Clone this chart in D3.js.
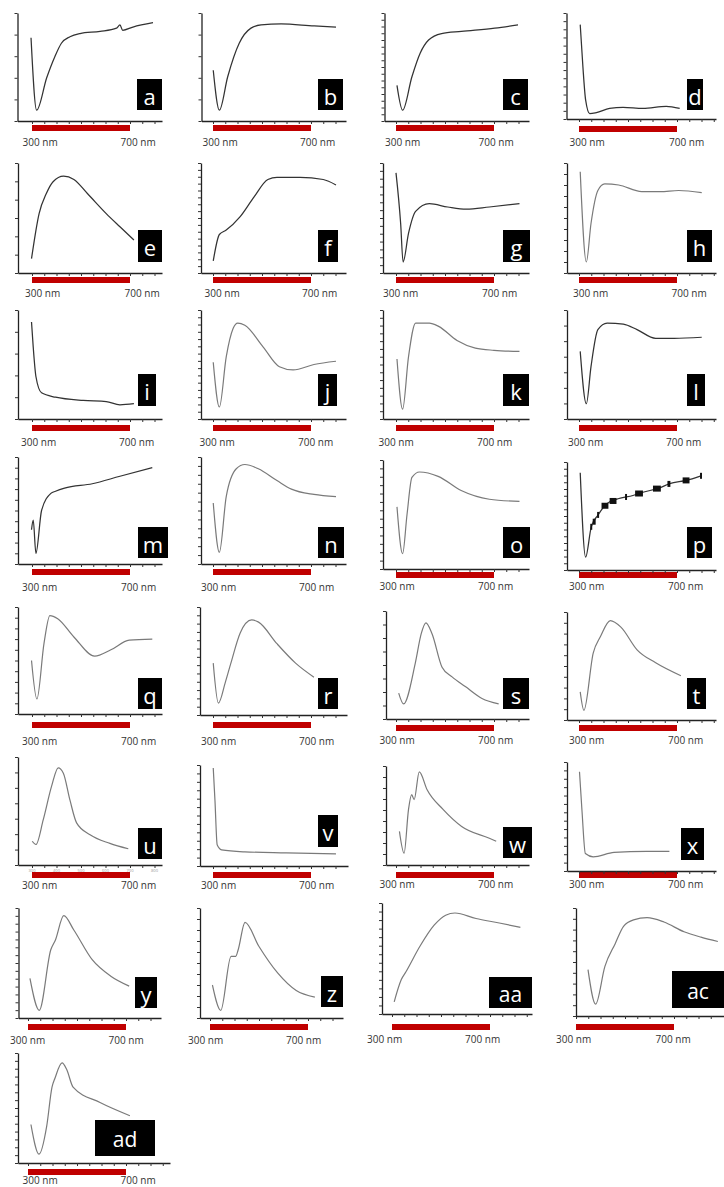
<!DOCTYPE html>
<html><head><meta charset="utf-8">
<script src="https://cdn.jsdelivr.net/npm/d3@7"></script>
<style>body{margin:0;background:#fff}svg{display:block}</style>
</head><body>
<svg id="c" width="724" height="1187"></svg>
<script>
// ---------- DATA ----------
const panelIds = ["a","b","c","d","e","f","g","h","i","j","k","l","m","n","o","p","q","r","s","t","u","v","w","x","y","z","aa","ac","ad"];
const barRangeNm = [300, 700];
const barLabels = ["300 nm", "700 nm"];
const xTickNm = [300,350,400,450,500,550,600,650,700,750,800,850];
const uTickLabels = ["300","400","500","600","700","800"];
const uTickNm = [300,400,500,600,700,800];
const yTickCounts = [5,5,16,13,6,16,14,10,5,15,14,7,10,12,13,16,10,13,8,10,7,12,9,13,14,10,13,10,14];
const noisyPanels = ["a","b","c","d","e","f","g","i","l","m","p"];

const a_nm = [296,319,360,394,420,455,496,578,645,659,670,712,794];
const a_val = [77,10,40,60,72,78,81,83,86,89,84,87,91];
const b_nm = [301,326,360,407,455,496,578,713,802];
const b_val = [47,10,41,72,86,89,90,88,87];
const c_nm = [304,327,365,399,433,486,567,703,798];
const c_val = [33,10,41,63,75,81,83,86,89];
const d_nm = [305,316,327,344,371,425,480,561,656,711];
const d_val = [89,49,18,5,6,10,11,10,12,10];
const e_nm = [298,329,358,386,429,471,527,603,659,716];
const e_val = [13,54,72,83,88,85,72,54,42,30];
const f_nm = [301,326,354,410,467,524,561,655,750,802];
const f_val = [11,35,39,51,69,85,87,87,85,80];
const g_nm = [300,319,329,351,380,436,511,587,681,804];
const g_val = [91,45,10,36,56,63,60,58,60,63];
const h_nm = [305,330,349,377,405,462,556,631,707,801];
const h_val = [92,10,45,75,81,80,74,74,75,73];
const i_nm = [298,305,316,339,396,509,603,659,716];
const i_val = [89,66,39,24,20,17,16,13,14];
const j_nm = [301,326,354,382,401,430,505,571,627,712,802];
const j_val = [52,11,57,83,88,86,66,48,45,50,53];
const k_nm = [304,327,351,380,436,474,549,624,700,804];
const k_val = [55,9,57,88,88,85,72,65,63,62];
const l_nm = [305,330,349,377,415,481,537,613,688,801];
const l_val = [62,14,48,82,88,87,82,74,74,75];
const m_nm = [298,305,316,339,377,396,433,546,659,791];
const m_val = [32,41,10,50,66,68,71,75,82,90];
const n_nm = [301,326,354,395,430,485,561,620,712,802];
const n_val = [57,11,63,89,93,89,78,70,65,63];
const o_nm = [304,327,345,365,396,472,566,681,804];
const o_val = [57,14,50,84,89,85,72,64,62];
const p_nm = [305,327,350,378,411,459,520,561,629,670,738,795];
const p_val = [90,12,40,51,61,66,69,72,76,80,83,87];
const pBlockNm = [350,362,378,406,439,492,545,618,667,737,798];
const pBlockW = [8,12,8,28,28,8,32,32,12,28,8];
const q_nm = [298,320,349,373,405,471,556,622,697,791];
const q_val = [50,14,66,92,89,72,54,60,69,70];
const r_nm = [301,322,350,373,411,458,486,561,637,712];
const r_val = [48,11,30,48,76,88,86,66,48,35];
const s_nm = [311,331,379,403,422,447,488,529,583,651,719];
const s_val = [24,14,52,79,89,79,48,39,30,19,14];
const t_nm = [305,320,358,387,428,471,537,613,716];
const t_val = [26,9,62,77,92,86,65,53,41];
const u_nm = [301,316,346,380,407,428,455,482,537,618,693];
const u_val = [22,19,42,73,90,85,60,39,28,20,15];
const v_nm = [301,308,317,335,430,599,802];
const v_val = [97,65,21,16,14,13,12];
const w_nm = [314,333,351,364,374,395,427,493,568,681,709];
const w_val = [34,12,56,71,66,94,76,56,39,27,24];
const x_nm = [302,312,326,358,443,575,669];
const x_val = [91,56,16,13,17,18,18];
const y_nm = [308,346,393,412,446,487,562,638,713];
const y_val = [36,7,62,71,93,80,53,38,29];
const z_nm = [310,344,386,405,415,443,500,576,652,728];
const z_val = [30,7,56,56,62,87,65,41,25,19];
const aa_nm = [309,338,357,414,472,519,557,643,738,824];
const aa_val = [11,31,38,61,80,89,91,86,82,78];
const ac_nm = [349,380,418,460,494,535,590,659,741,810,879];
const ac_val = [43,11,46,67,83,89,91,87,78,73,69];
const ad_nm = [312,345,376,398,410,439,458,484,594,716];
const ad_val = [35,8,33,69,77,91,85,69,55,43];

const spectraNm = [a_nm,b_nm,c_nm,d_nm,e_nm,f_nm,g_nm,h_nm,i_nm,j_nm,k_nm,l_nm,m_nm,n_nm,o_nm,p_nm,q_nm,r_nm,s_nm,t_nm,u_nm,v_nm,w_nm,x_nm,y_nm,z_nm,aa_nm,ac_nm,ad_nm];
const spectraVal = [a_val,b_val,c_val,d_val,e_val,f_val,g_val,h_val,i_val,j_val,k_val,l_val,m_val,n_val,o_val,p_val,q_val,r_val,s_val,t_val,u_val,v_val,w_val,x_val,y_val,z_val,aa_val,ac_val,ad_val];

// ---------- LAYOUT (pixels) ----------
// [axisX, axisEnd, top, bottom, x@300nm, barY, labelY, x300label, x700label, boxX, boxY, boxW, boxH]
const layout = [
 [17.5,162,13,121,32,125,142,22.5,120.5,137,79,25,31],
 [201.5,346,13,121,213,125,142,202.5,300,318,79,25,31],
 [384.5,529,13,121,396,125,142,385,478.5,503,79,25,31],
 [566.5,716,13,119,579,126,142,569.5,669,687,79,16,31],
 [18,162,163,273,32,277,293,25,124.5,138,230,24,32],
 [201,346,163,273,213,277,293,204.5,302,318,230,20,32],
 [383,529,163,273,396,277,293,383,482,503,230,27,32],
 [567,716,163,273,579,277,293,573,671.5,687,230,25,32],
 [18,162,310,419,32,425,442,21,119,138,374,18,32],
 [201,346,310,419,213,425,442,199.5,298,318,374,19,32],
 [383,529,310,419,396,425,442,378.5,477,503,374,26,32],
 [567,716,310,419,579,425,442,568,666,687,374,18,32],
 [18,162,457,564,32,569,587,22,121,138,527,30,31],
 [201,346,457,564,213,569,587,201,299,318,527,26,31],
 [383,529,460,569,396,572,586,379.5,478,503,527,27,31],
 [567,716,462,570,579,572,586,569,668,687,527,25,31],
 [18,162,607,714,32,722,741,22,121,138,678,24,31],
 [200,347,607,715,213,722,741,201,299,318,678,20,31],
 [386,529,611,719,396,725,740,379.5,478,503,678,26,31],
 [567,716,612,720,579,725,740,569,668,687,678,19,31],
 [18,162,757,865,32,872,885,22,121,138,828,24,31],
 [200,348,765,866,213,872,885,201,299,318,815,20,32],
 [386,529,766,865,396,872,884,379.5,478,503,827,29,31],
 [567,716,762,871,579,872,884,569,668,681,828,23,32],
 [18.5,161,908,1018,28,1024,1040,10,108.5,135,977,22,31],
 [200,343,908,1018,210,1024,1040,188,286,321,976,22,31],
 [382,532,903,1014,392,1024,1039,367,465,489,977,43,31],
 [576,724,908,1016,576,1024,1039,556,655.5,672,971,52,37],
 [18,170,1053,1163,28,1169,1179.5,22.5,120.5,95,1120,60,36]
];
const BAR_PX = 98, BAR_H = 6;

// ---------- DRAW ----------
const svg = d3.select("#c");
panelIds.forEach((id, i) => {
  const [ax,end,top,bot,b0,barY,labY,t3,t7,bx,by,bw,bh] = layout[i];
  const x = d3.scaleLinear().domain(barRangeNm).range([b0, b0 + BAR_PX]);
  const xa = d3.scaleLinear().domain([x.invert(ax), x.invert(end)]).range([ax, end]);
  const y = d3.scaleLinear().domain([0, 100]).range([bot, top]);
  const g = svg.append("g").attr("class", "panel-" + id);

  g.append("rect").attr("x", x(barRangeNm[0])).attr("y", barY)
    .attr("width", x(barRangeNm[1]) - x(barRangeNm[0])).attr("height", BAR_H)
    .attr("fill", "#c00000");

  const xTicks = xTickNm.filter(v => xa(v) <= end - 2);
  const gx = g.append("g").attr("transform", `translate(0,${bot})`)
    .call(d3.axisBottom(xa).tickValues(xTicks).tickSizeInner(3).tickSizeOuter(0).tickFormat(""));
  const n = yTickCounts[i];
  const gy = g.append("g").attr("transform", `translate(${ax},0)`)
    .call(d3.axisLeft(y).tickValues(d3.range(n + 1).map(k => k * 100 / n)).tickSizeInner(3).tickSizeOuter(0).tickFormat(""));
  [gx, gy].forEach(a => {
    a.select(".domain").attr("stroke", "#222").attr("stroke-width", 1.3);
    a.selectAll(".tick line").attr("stroke", "#333").attr("stroke-width", 1);
  });

  if (id === "u") {
    g.selectAll("text.ut").data(uTickNm).join("text")
      .attr("x", d => xa(d)).attr("y", bot + 7).attr("text-anchor", "middle")
      .attr("font-family", "Open Sans, sans-serif").attr("font-size", 4).attr("fill", "#999")
      .text((d, k) => uTickLabels[k]);
  }

  const pts = spectraNm[i].map((w, k) => [w, spectraVal[i][k]]);
  const noisy = noisyPanels.includes(id);
  g.append("path").datum(pts)
    .attr("d", d3.line().x(d => x(d[0])).y(d => y(d[1])).curve(d3.curveMonotoneX))
    .attr("fill", "none")
    .attr("stroke", noisy ? "#333" : "#7a7a7a")
    .attr("stroke-width", noisy ? 1.25 : 1.2)
    .attr("stroke-linejoin", "round");

  if (id === "p") {
    const interp = w => {
      const nm = spectraNm[i], vv = spectraVal[i];
      let k = d3.bisectRight(nm, w) - 1; k = Math.max(0, Math.min(nm.length - 2, k));
      const t = (w - nm[k]) / (nm[k + 1] - nm[k]);
      return vv[k] + t * (vv[k + 1] - vv[k]);
    };
    g.selectAll("rect.blk").data(pBlockNm).join("rect")
      .attr("x", (d, k) => x(d - pBlockW[k] / 2))
      .attr("width", (d, k) => x(d + pBlockW[k] / 2) - x(d - pBlockW[k] / 2))
      .attr("y", d => y(interp(d)) - 3).attr("height", 6).attr("fill", "#111");
  }

  g.append("text").attr("x", t3).attr("y", labY).attr("dominant-baseline", "central")
    .attr("font-family", "Open Sans, sans-serif").attr("font-size", 10).attr("fill", "#333")
    .text(barLabels[0]);
  g.append("text").attr("x", t7).attr("y", labY).attr("dominant-baseline", "central")
    .attr("font-family", "Open Sans, sans-serif").attr("font-size", 10).attr("fill", "#333")
    .text(barLabels[1]);

  g.append("rect").attr("x", bx).attr("y", by).attr("width", bw).attr("height", bh).attr("fill", "#000");
  g.append("text").attr("x", bx + bw / 2).attr("y", by + bh / 2 + 1)
    .attr("text-anchor", "middle").attr("dominant-baseline", "central")
    .attr("font-family", "Open Sans, sans-serif").attr("font-size", id.length > 1 ? 21 : 22)
    .attr("fill", "#fff").text(id);
});
</script>
</body></html>
